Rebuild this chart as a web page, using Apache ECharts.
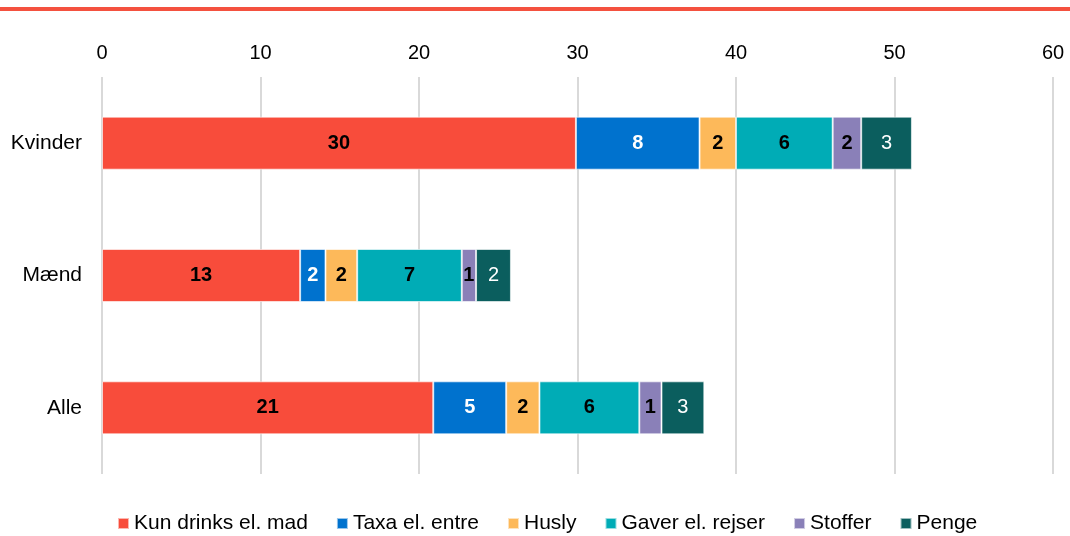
<!DOCTYPE html>
<html><head><meta charset="utf-8">
<script src="https://cdn.jsdelivr.net/npm/echarts@6/dist/echarts.min.js"></script>
<style>html,body{margin:0;padding:0;background:#fff}#c{width:1070px;height:536px}</style>
</head><body><div id="c"></div>
<script>
const categories = ['Kvinder', 'Mænd', 'Alle'];
const seriesNames = ['Kun drinks el. mad', 'Taxa el. entre', 'Husly', 'Gaver el. rejser', 'Stoffer', 'Penge'];
const kunDrinks = [29.9, 12.5, 20.9];
const taxa = [7.8, 1.6, 4.6];
const husly = [2.3, 2.0, 2.1];
const gaver = [6.1, 6.6, 6.3];
const stoffer = [1.8, 0.9, 1.4];
const penge = [3.2, 2.2, 2.7];
const xTicks = [0, 10, 20, 30, 40, 50, 60];

const colors = ['#F84C3B', '#0072CE', '#FDB95A', '#00ACB6', '#8A80B8', '#0B5E5E'];
const labelColors = ['#000', '#fff', '#000', '#000', '#000', '#fff'];
const labelWeights = ['bold', 'bold', 'bold', 'bold', 'bold', 'normal'];
const allData = [kunDrinks, taxa, husly, gaver, stoffer, penge];
const font = 'Liberation Sans, Arial, sans-serif';

const chart = echarts.init(document.getElementById('c'));
chart.setOption({
  animation: false,
  color: colors,
  graphic: [{ type: 'rect', left: 0, top: 7, shape: { width: 1070, height: 4 }, style: { fill: '#F4513F' } }],
  grid: { left: 102, right: 17, top: 77, bottom: 62 },
  xAxis: {
    type: 'value', position: 'top', min: 0, max: 60, interval: 10,
    axisLine: { show: false }, axisTick: { show: false },
    axisLabel: { color: '#000', fontSize: 20, fontFamily: font, margin: 14, formatter: v => xTicks.includes(v) ? String(v) : '' },
    splitLine: { lineStyle: { color: '#D9D9D9', width: 2 } }
  },
  yAxis: {
    type: 'category', data: categories, inverse: true,
    axisLine: { show: false }, axisTick: { show: false },
    axisLabel: { color: '#000', fontSize: 21, fontFamily: font, margin: 20 }
  },
  legend: {
    top: 508, left: 112, itemWidth: 11, itemHeight: 11, itemGap: 28,
    icon: 'rect',
    textStyle: { color: '#000', fontSize: 21, fontFamily: font },
    data: seriesNames
  },
  series: seriesNames.map((n, i) => ({
    name: n, type: 'bar', stack: 'a', barWidth: 53,
    data: allData[i],
    itemStyle: { color: colors[i], borderColor: 'rgba(255,255,255,0.6)', borderWidth: 1 },
    label: {
      show: true, position: 'inside', formatter: p => Math.round(p.value),
      color: labelColors[i], fontWeight: labelWeights[i], fontSize: 20, fontFamily: font
    }
  }))
});
</script></body></html>
